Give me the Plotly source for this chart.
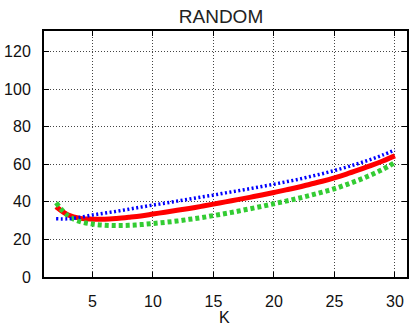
import plotly.graph_objects as go

K = list(range(2, 31))
red = [37.4, 33.0, 31.2, 30.8, 30.8, 31.2, 31.8, 32.5, 33.5, 34.5, 35.5, 36.5, 37.6, 38.8,
       40.0, 41.2, 42.4, 43.7, 45.0, 46.4, 47.8, 49.4, 51.0, 52.8, 54.8, 57.0, 59.3, 61.8, 64.5]
blue = [31.0, 31.0, 31.8, 33.0, 34.0, 35.0, 36.1, 37.2, 38.3, 39.3, 40.4, 41.5, 42.6, 43.6,
        44.8, 45.9, 47.0, 48.2, 49.4, 50.7, 52.0, 53.5, 55.0, 56.7, 58.5, 60.5, 62.6, 65.0, 67.6]
green = [39.5, 32.5, 29.5, 28.2, 27.6, 27.4, 27.5, 27.9, 28.5, 29.1, 29.8, 30.7, 31.6, 32.7,
         33.8, 35.0, 36.3, 37.6, 39.0, 40.4, 41.9, 43.5, 45.2, 47.0, 49.2, 51.6, 54.3, 57.3, 61.0]

x_ticks = [5, 10, 15, 20, 25, 30]
y_ticks = [0, 20, 40, 60, 80, 100, 120]

fig = go.Figure()
fig.add_trace(go.Scatter(x=K, y=red, mode="lines", line=dict(color="#ff0000", width=5, shape="spline"), showlegend=False))
fig.add_trace(go.Scatter(x=K, y=green, mode="lines", line=dict(color="#33cc33", width=5, dash="4px,3px", shape="spline"), showlegend=False))
fig.add_trace(go.Scatter(x=K, y=blue, mode="lines", line=dict(color="#0000ff", width=3.5, dash="2px,2.5px", shape="spline"), showlegend=False))

ff = "Liberation Sans, Arial, sans-serif"
font = dict(family=ff, size=16, color="#111111")
fig.update_layout(
    width=409, height=325,
    margin=dict(l=44, r=2, t=31, b=48, autoexpand=False),
    paper_bgcolor="white", plot_bgcolor="white",
    font=font,
    title=dict(text="RANDOM", x=221 / 409, xanchor="center", y=1 - 16.5 / 325, yanchor="middle", yref="container",
               font=dict(family=ff, size=19, color="#222"), automargin=False),
    xaxis=dict(range=[1, 31], tickvals=x_ticks, ticks="inside", ticklen=5, tickcolor="black",
               showline=True, linecolor="black", linewidth=2, mirror="allticks",
               showgrid=True, gridcolor="#444", griddash="1px,2px", gridwidth=1, zeroline=False,
               tickfont=dict(family=ff, size=16, color="#111111"),
               ticklabelstandoff=9, automargin=False),
    yaxis=dict(range=[0, 131], tickvals=y_ticks, ticks="inside", ticklen=5, tickcolor="black",
               showline=True, linecolor="black", linewidth=2, mirror="allticks",
               showgrid=True, gridcolor="#444", griddash="1px,2px", gridwidth=1, zeroline=False,
               tickfont=dict(family=ff, size=16, color="#111111"),
               ticklabelstandoff=8, automargin=False),
    annotations=[dict(text="K", xref="paper", yref="paper", x=0.4986, y=-40.5 / 246,
                      xanchor="center", yanchor="middle", showarrow=False,
                      font=dict(family=ff, size=16, color="#111111"))],
)
fig.write_html("out.html")
